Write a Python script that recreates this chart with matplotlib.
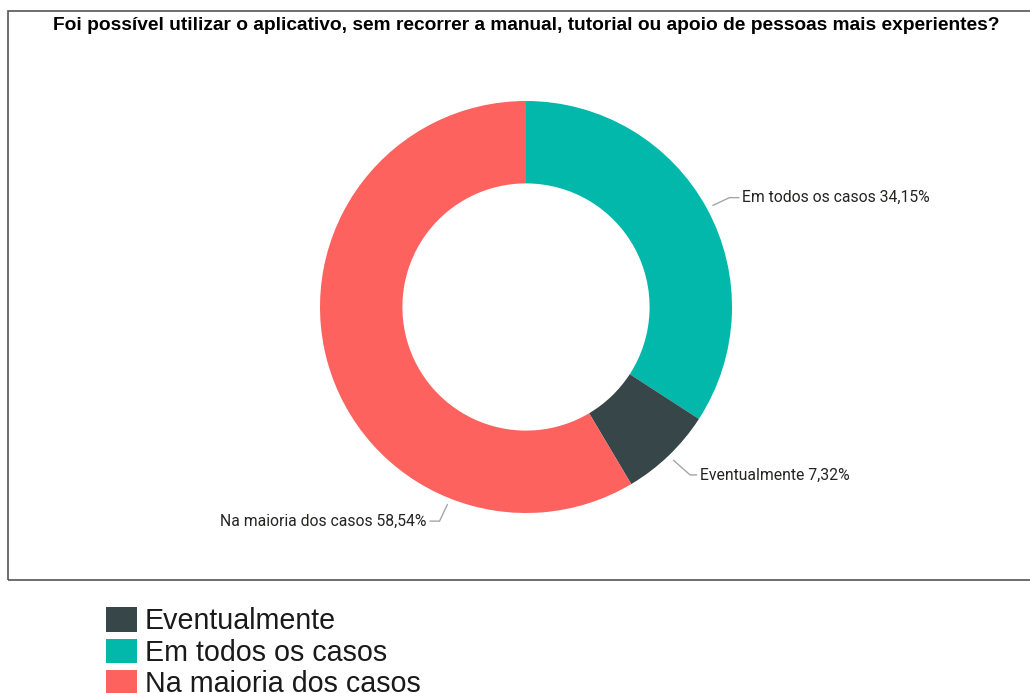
import numpy as np
import matplotlib
matplotlib.use("Agg")
import matplotlib.pyplot as plt
from matplotlib.patches import Rectangle, Patch

# Survey answers (clockwise from 12 o'clock)
categories = ["Em todos os casos", "Eventualmente", "Na maioria dos casos"]
shares = [34.15, 7.32, 58.54]
colors = ["#01B8AA", "#374649", "#FD625E"]
value_labels = ["34,15%", "7,32%", "58,54%"]

# Legend order
legend_order = ["Eventualmente", "Em todos os casos", "Na maioria dos casos"]

title = ("Foi possível utilizar o aplicativo, sem recorrer a manual, "
         "tutorial ou apoio de pessoas mais experientes?")

W, H = 1030, 693
fig = plt.figure(figsize=(W / 100, H / 100), dpi=100)
fig.patch.set_facecolor("white")


def fx(px):
    return px / W


def fy(py):
    return 1 - py / H


# Chart frame (right edge runs off the canvas)
fig.add_artist(Rectangle((fx(8), fy(580)), fx(1040) - fx(8), fy(11) - fy(580),
                         transform=fig.transFigure, fill=False,
                         edgecolor="#555555", lw=1.2))

fig.text(fx(526), fy(25), title, ha="center", va="center",
         fontsize=13.8, fontweight="bold", family="Liberation Sans", color="black")

# Donut: centre (526, 307) px, outer radius 206 px
R = 206
cx, cy = 526, 307
ax = fig.add_axes([fx(cx - R), fy(cy + R), 2 * R / W, 2 * R / H])

wedges, _ = ax.pie(shares, colors=colors, startangle=90, counterclock=False,
                   radius=1, wedgeprops=dict(width=0.40, edgecolor="none"))
ax.set_xlim(-1, 1)
ax.set_ylim(-1, 1)
ax.set_aspect("equal")
ax.axis("off")

# Leader lines: anchor angle (deg clockwise from top), elbow and tail in px
s = 1 / R
cum = np.cumsum([0] + shares[:-1])
mid = [(c + v / 2) / 100 * 360 for c, v in zip(cum, shares)]
anchor_angle = [mid[0], mid[1], 201.7]
elbow = [(17, 8), (17, -15), (-8, -17)]
tail = [10, 7, -10]

for i, (cat, lab) in enumerate(zip(categories, value_labels)):
    a = np.deg2rad(anchor_angle[i])
    r0 = 1.03
    x0, y0 = r0 * np.sin(a), r0 * np.cos(a)
    x1, y1 = x0 + elbow[i][0] * s, y0 + elbow[i][1] * s
    x2 = x1 + tail[i] * s
    ax.plot([x0, x1, x2], [y0, y1, y1], color="#a6a6a6", lw=1,
            clip_on=False, solid_capstyle="butt")
    ha = "left" if tail[i] > 0 else "right"
    tx = x2 + (3 * s if tail[i] > 0 else -3 * s)
    ax.text(tx, y1, f"{cat} {lab}", ha=ha, va="center", fontsize=11.3,
            family="Roboto", color="#252423", clip_on=False)

# Legend below the frame
color_of = dict(zip(categories, colors))
handles = [Patch(facecolor=color_of[c], edgecolor="none") for c in legend_order]
leg = fig.legend(handles, legend_order, loc="upper left",
                 bbox_to_anchor=(fx(106), fy(607)), frameon=False,
                 prop=dict(family="Liberation Sans", size=20.6),
                 handlelength=1.1, handleheight=0.95, handletextpad=0.25,
                 labelspacing=0.12, borderpad=0, borderaxespad=0)
for t in leg.get_texts():
    t.set_color("#1a1a1a")

fig.savefig("out.png", dpi=100, facecolor="white")
